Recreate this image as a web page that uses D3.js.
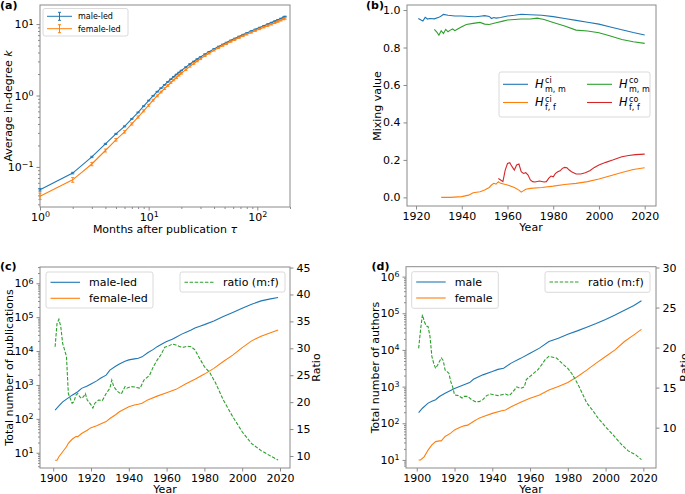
<!DOCTYPE html>
<html><head><meta charset="utf-8">
<script src="https://cdn.jsdelivr.net/npm/d3@7"></script>
<style>body{margin:0;background:#fff}</style>
</head><body><svg id="c" width="685" height="494"></svg>
<script>
// ---------- Panel (a) ----------
const tau = [1,2,3,4,5,6,7,8,9,10,11,12,13,14,15,16,17,18,19,20,22,24,26,28,30,33,36,40,44,48,52,57,62,68,74,80,88,96,105,115,125,135,145,155,165,175,180];
const kMale = [0.048,0.082,0.138,0.21,0.29,0.37,0.47,0.58,0.71,0.85,0.99,1.13,1.27,1.41,1.55,1.69,1.83,1.97,2.1,2.24,2.5,2.76,3.0,3.24,3.46,3.8,4.1,4.5,4.86,5.2,5.52,5.92,6.3,6.72,7.12,7.5,8.0,8.45,8.95,9.48,10.0,10.5,11.0,11.5,12.0,12.5,12.8];
const kMaleErr = [0.002,0.002,0.003,0.004,0.005,0.006,0.007,0.008,0.01,0.011,0.012,0.013,0.014,0.015,0.016,0.017,0.018,0.019,0.02,0.021,0.023,0.025,0.027,0.029,0.03,0.033,0.035,0.038,0.041,0.044,0.046,0.05,0.053,0.056,0.06,0.063,0.067,0.071,0.075,0.08,0.085,0.09,0.095,0.1,0.105,0.11,0.112];
const kFemale = [0.039,0.066,0.11,0.17,0.24,0.31,0.4,0.5,0.61,0.73,0.86,0.99,1.12,1.25,1.38,1.52,1.65,1.78,1.92,2.05,2.3,2.56,2.8,3.04,3.26,3.6,3.9,4.3,4.65,5.0,5.3,5.7,6.05,6.45,6.85,7.2,7.65,8.1,8.55,9.05,9.5,9.95,10.4,10.85,11.3,11.75,12.0];
const kFemaleErr = [0.004,0.005,0.006,0.008,0.01,0.012,0.014,0.017,0.02,0.023,0.026,0.029,0.032,0.035,0.038,0.041,0.044,0.047,0.05,0.053,0.058,0.063,0.068,0.073,0.078,0.085,0.092,0.1,0.108,0.116,0.123,0.132,0.14,0.15,0.16,0.17,0.18,0.19,0.2,0.21,0.22,0.23,0.24,0.25,0.26,0.27,0.28];
const aLegend = ["male-led","female-led"];

// ---------- Panel (b) ----------
const bYearsHciMM = [1921,1922,1923,1924,1925,1926,1928,1930,1931,1932,1934,1937,1940,1943,1946,1948,1950,1952,1953,1954,1955,1957,1960,1963,1966,1970,1975,1980,1985,1990,1995,2000,2005,2010,2015,2020];
const bHciMM      = [0.955,0.948,0.941,0.961,0.952,0.955,0.953,0.961,0.968,0.977,0.972,0.968,0.968,0.966,0.964,0.967,0.97,0.966,0.955,0.96,0.957,0.96,0.968,0.972,0.978,0.975,0.972,0.965,0.955,0.945,0.935,0.925,0.91,0.895,0.88,0.867];
const bYearsHcoMM = [1928,1929,1930,1931,1932,1933,1934,1935,1936,1937,1938,1940,1942,1945,1948,1950,1952,1955,1958,1960,1963,1966,1970,1973,1976,1980,1985,1990,1995,2000,2005,2010,2015,2020];
const bHcoMM      = [0.897,0.884,0.866,0.89,0.875,0.897,0.884,0.893,0.899,0.89,0.897,0.911,0.923,0.929,0.934,0.925,0.923,0.932,0.941,0.947,0.95,0.952,0.952,0.957,0.95,0.934,0.915,0.893,0.888,0.879,0.861,0.843,0.831,0.822];
const bYearsHciFF = [1931,1935,1940,1943,1945,1948,1950,1952,1953,1954,1955,1956,1957,1960,1963,1965,1966,1968,1970,1975,1980,1985,1990,1995,2000,2005,2010,2015,2020];
const bHciFF      = [0.0,0.0,0.004,0.012,0.025,0.03,0.039,0.053,0.066,0.075,0.071,0.084,0.075,0.066,0.053,0.039,0.028,0.043,0.048,0.053,0.06,0.069,0.075,0.084,0.098,0.116,0.133,0.149,0.158];
const bYearsHcoFF = [1956,1957,1958,1959,1960,1961,1962,1963,1964,1965,1966,1967,1968,1969,1970,1971,1972,1974,1976,1977,1978,1979,1980,1981,1982,1983,1984,1985,1986,1987,1988,1990,1992,1994,1996,1998,2000,2003,2006,2010,2013,2016,2020];
const bHcoFF      = [0.101,0.093,0.084,0.146,0.181,0.185,0.164,0.146,0.173,0.178,0.137,0.128,0.132,0.119,0.093,0.084,0.082,0.087,0.082,0.084,0.101,0.114,0.11,0.128,0.137,0.142,0.155,0.16,0.158,0.146,0.137,0.125,0.125,0.132,0.142,0.16,0.173,0.187,0.199,0.217,0.224,0.228,0.231];
const bTicksX = [1920,1940,1960,1980,2000,2020];
const bTicksY = [0.0,0.2,0.4,0.6,0.8,1.0];

// ---------- Panel (c) ----------
const cYearsMale = [1901,1903,1905,1908,1910,1913,1915,1918,1920,1923,1925,1928,1930,1933,1935,1938,1940,1943,1945,1947,1950,1953,1955,1958,1960,1963,1965,1968,1970,1973,1975,1978,1980,1985,1990,1995,2000,2005,2010,2015,2019];
const cMaleLed = [182,240,316,417,500,630,794,933,1070,1320,1580,1950,2750,3550,4170,5010,5500,5890,6170,6760,8910,11200,13500,16600,19100,22400,25700,31600,35500,41700,47900,55000,60300,77600,105000,138000,182000,240000,302000,347000,380000];
const cYearsFemale = [1901,1902,1903,1905,1907,1908,1910,1912,1913,1915,1918,1920,1923,1925,1928,1930,1933,1935,1938,1940,1943,1945,1947,1950,1955,1960,1965,1970,1975,1980,1985,1990,1995,2000,2005,2010,2015,2019];
const cFemaleLed = [6,6,7.6,10.7,15,19,25,30,30,37,46,55,63,71,83,102,132,162,200,229,257,269,288,363,468,589,741,1070,1480,2090,3090,4900,7590,12600,20000,27500,34700,41700];
const cYearsRatio = [1901,1902,1903,1904,1905,1906,1907,1908,1910,1911,1912,1913,1914,1915,1916,1917,1918,1920,1921,1922,1924,1926,1928,1930,1931,1932,1934,1936,1938,1939,1941,1943,1946,1948,1951,1953,1955,1957,1959,1961,1963,1965,1967,1969,1971,1973,1975,1978,1980,1983,1986,1990,1995,2000,2005,2010,2015,2019];
const cRatio = [30.3,34.6,35.4,34.0,30.9,29.7,28.5,21.6,19.8,20.1,21.3,21.6,21.0,20.7,21.0,21.6,20.4,19.5,18.9,19.8,20.4,20.3,21.6,22.6,24.1,22.9,22.0,21.5,22.9,22.6,22.9,22.8,22.6,24.1,25.0,26.6,27.8,28.8,30.2,30.4,30.8,30.6,30.3,30.2,30.4,30.3,29.7,27.8,26.6,25.4,23.5,20.4,17.3,14.5,12.3,11.0,10.0,9.25];
const cTicksRight = [10,15,20,25,30,35,40,45];

// ---------- Panel (d) ----------
const dYearsMale = [1901,1903,1906,1908,1910,1912,1915,1920,1925,1928,1930,1935,1940,1943,1946,1950,1955,1960,1965,1970,1975,1980,1985,1990,1995,2000,2005,2010,2015,2019];
const dMale = [195,257,355,398,437,537,661,891,1120,1290,1580,2090,2570,2950,3160,4370,5890,8130,11200,17000,20900,26900,33100,41700,52500,67600,89100,120000,162000,219000];
const dYearsFemale = [1901,1902,1904,1906,1908,1910,1912,1913,1915,1918,1920,1923,1925,1927,1930,1933,1935,1940,1945,1947,1950,1955,1960,1965,1970,1975,1980,1985,1990,1995,2000,2005,2010,2015,2019];
const dFemale = [10,10,12.3,18.6,25.7,31.6,33,33,43.6,53.7,66,77.6,85,89,112,138,151,186,219,229,282,372,479,589,813,1000,1290,1860,2820,4370,6610,10000,17000,25700,36300];
const dYearsRatio = [1901,1902,1903,1904,1905,1906,1907,1908,1909,1910,1911,1912,1913,1914,1915,1916,1917,1918,1919,1920,1922,1924,1925,1927,1929,1931,1933,1935,1937,1939,1941,1943,1945,1947,1949,1951,1953,1955,1957,1958,1960,1962,1964,1966,1968,1970,1972,1974,1976,1978,1980,1982,1984,1986,1988,1990,1993,1996,2000,2004,2008,2012,2016,2019];
const dRatio = [19.9,22.2,24.1,23.25,22.7,22.6,21.4,18.9,18.0,17.4,17.8,18.25,18.7,18.4,17.2,17.0,16.8,15.75,15.1,14.1,14.0,13.7,13.9,13.9,13.5,13.25,13.25,13.5,14.0,14.2,14.1,14.0,14.1,14.2,14.0,14.5,15.1,14.9,15.1,16.0,16.4,16.8,17.2,17.8,18.5,18.9,18.8,18.7,18.25,17.8,17.4,16.8,16.0,15.1,14.1,13.1,12.2,11.2,10.1,9.1,8.0,7.1,6.6,6.0];
const dTicksRight = [10,15,20,25,30];

const yearTicks = [1900,1920,1940,1960,1980,2000,2020];

// ---------- drawing ----------
const FF = '"DejaVu Sans", sans-serif';
const SP = "#8a8a8a";
const COL = {blue:"#1f77b4", orange:"#ff7f0e", green:"#2ca02c", red:"#d62728"};
const svg = d3.select("#c").attr("font-family", FF);

function frame(x0,y0,x1,y1){
  svg.append("rect").attr("x",x0).attr("y",y0).attr("width",x1-x0).attr("height",y1-y0)
    .attr("fill","none").attr("stroke",SP).attr("stroke-width",1);
}
function styleAxis(g){
  g.attr("font-size",11).attr("font-family",FF);
  g.select(".domain").remove();
  g.selectAll(".tick line").attr("stroke",SP);
  g.selectAll(".tick text").attr("fill","#000");
}
function supLabels(g){
  g.selectAll(".tick text").each(function(d){
    const e = Math.round(Math.log10(d));
    const t = d3.select(this); t.text("");
    t.append("tspan").text("10");
    t.append("tspan").attr("dy","-0.45em").attr("font-size","0.72em").text(String(e).replace("-","\u2212"));
  });
}
function minorVals(lo,hi){
  const out=[];
  for(let e=Math.floor(Math.log10(lo)); e<=Math.ceil(Math.log10(hi)); e++)
    for(let m=2;m<=9;m++){ const v=m*Math.pow(10,e); if(v>=lo && v<=hi) out.push(v); }
  return out;
}
function majorVals(lo,hi){
  const out=[];
  for(let e=Math.ceil(Math.log10(lo)); e<=Math.floor(Math.log10(hi)); e++) out.push(Math.pow(10,e));
  return out;
}
function bottomLog(x, y0){
  const [lo,hi]=x.domain();
  const g=svg.append("g").attr("transform",`translate(0,${y0})`)
    .call(d3.axisBottom(x).tickValues(majorVals(lo,hi)).tickSize(3.5).tickPadding(2.5).tickSizeOuter(0));
  styleAxis(g); supLabels(g);
  const m=svg.append("g").attr("transform",`translate(0,${y0})`)
    .call(d3.axisBottom(x).tickValues(minorVals(lo,hi)).tickSize(2).tickFormat("").tickSizeOuter(0));
  styleAxis(m);
}
function leftLog(y, x0){
  const [lo,hi]=y.domain();
  const g=svg.append("g").attr("transform",`translate(${x0},0)`)
    .call(d3.axisLeft(y).tickValues(majorVals(lo,hi)).tickSize(3.5).tickPadding(3).tickSizeOuter(0));
  styleAxis(g); supLabels(g);
  const m=svg.append("g").attr("transform",`translate(${x0},0)`)
    .call(d3.axisLeft(y).tickValues(minorVals(lo,hi)).tickSize(2).tickFormat("").tickSizeOuter(0));
  styleAxis(m);
}
function label(text, x, y, rot, parts){
  const t=svg.append("text").attr("font-size",11).attr("text-anchor","middle")
    .attr("transform",`translate(${x},${y})${rot?" rotate(-90)":""}`);
  if(parts){ parts.forEach(p=>{ const s=t.append("tspan").text(p[0]); if(p[1]) s.attr("font-style","italic"); }); }
  else t.text(text);
  return t;
}
function panelTag(s,x,y){
  svg.append("text").attr("x",x).attr("y",y).attr("font-size",11).attr("font-weight","bold").text(s);
}
function drawLine(x,y,xs,ys,color,dash){
  const data = xs.map((v,i)=>[v,ys[i]]);
  svg.append("path").datum(data).attr("fill","none").attr("stroke",color).attr("stroke-width",1.1)
    .attr("stroke-dasharray",dash||null)
    .attr("d",d3.line().x(d=>x(d[0])).y(d=>y(d[1])));
}
function legendBox(x0,y0,x1,y1){
  svg.append("rect").attr("x",x0).attr("y",y0).attr("width",x1-x0).attr("height",y1-y0).attr("rx",2)
    .attr("fill","#fff").attr("fill-opacity",0.8).attr("stroke","#d0d0d0").attr("stroke-width",0.8);
}

// ===== (a) =====
{
  const x=d3.scaleLog().domain([1,200]).range([40,290]);
  const y=d3.scaleLog().domain([0.0275,18.5]).range([207,5]);
  frame(40,5,290,207);
  bottomLog(x,207); leftLog(y,40);
  const series=[[kMale,kMaleErr,COL.blue],[kFemale,kFemaleErr,COL.orange]];
  series.forEach(([v,e,c])=>{
    drawLine(x,y,tau,v,c);
    const g=svg.append("g").attr("stroke",c).attr("stroke-width",0.9);
    tau.forEach((t,i)=>{
      const xx=x(t), ya=y(v[i]-e[i]), yb=y(v[i]+e[i]);
      g.append("line").attr("x1",xx).attr("x2",xx).attr("y1",ya).attr("y2",yb);
      g.append("line").attr("x1",xx-1.6).attr("x2",xx+1.6).attr("y1",ya).attr("y2",ya);
      g.append("line").attr("x1",xx-1.6).attr("x2",xx+1.6).attr("y1",yb).attr("y2",yb);
    });
  });
  legendBox(43,8.5,128,36);
  [[aLegend[0],COL.blue,16.3],[aLegend[1],COL.orange,28.7]].forEach(([t,c,yy])=>{
    const g=svg.append("g").attr("stroke",c).attr("stroke-width",1);
    g.append("line").attr("x1",47).attr("x2",72).attr("y1",yy).attr("y2",yy);
    g.append("line").attr("x1",59.5).attr("x2",59.5).attr("y1",yy-4).attr("y2",yy+4);
    g.append("line").attr("x1",58).attr("x2",61).attr("y1",yy-4).attr("y2",yy-4);
    g.append("line").attr("x1",58).attr("x2",61).attr("y1",yy+4).attr("y2",yy+4);
    svg.append("text").attr("x",78).attr("y",yy+2.8).attr("font-size",8).text(t);
  });
  label(null,11.5,106,true,[["Average in-degree "],["k",true]]);
  label(null,165,233,false,[["Months after publication "],["\u03c4",true]]);
  panelTag("(a)",0,8.5);
}

// ===== (b) =====
{
  const x=d3.scaleLinear().domain([1916.05,2024.95]).range([407,656]);
  const y=d3.scaleLinear().domain([-0.046,1.027]).range([206,5]);
  frame(407,5,656,206);
  const gx=svg.append("g").attr("transform","translate(0,206)")
    .call(d3.axisBottom(x).tickValues(bTicksX).tickFormat(d3.format("d")).tickSize(3.5).tickPadding(2.5).tickSizeOuter(0));
  styleAxis(gx);
  const gy=svg.append("g").attr("transform","translate(407,0)")
    .call(d3.axisLeft(y).tickValues(bTicksY).tickFormat(d3.format(".1f")).tickSize(3.5).tickPadding(3).tickSizeOuter(0));
  styleAxis(gy);
  drawLine(x,y,bYearsHciMM,bHciMM,COL.blue);
  drawLine(x,y,bYearsHcoMM,bHcoMM,COL.green);
  drawLine(x,y,bYearsHciFF,bHciFF,COL.orange);
  drawLine(x,y,bYearsHcoFF,bHcoFF,COL.red);
  legendBox(499,72,650,117);
  const ent=[[503,84.3,COL.blue,"ci","m, m"],[587,84.3,COL.green,"co","m, m"],
             [503,102.5,COL.orange,"ci","f, f"],[587,102.5,COL.red,"co","f, f"]];
  ent.forEach(([lx,ly,c,sup,sub])=>{
    svg.append("line").attr("x1",lx).attr("x2",lx+25).attr("y1",ly).attr("y2",ly).attr("stroke",c).attr("stroke-width",1.1);
    const tx=lx+32;
    const t=svg.append("text").attr("x",tx).attr("y",ly+3.5).attr("font-size",11.5);
    t.append("tspan").attr("font-style","italic").text("H");
    t.append("tspan").attr("x",tx+10).attr("dy",-4.5).attr("font-size",8).text(sup);
    t.append("tspan").attr("x",tx+10).attr("dy",8.5).attr("font-size",8).text(sub);
  });
  label("Mixing value",380.5,106,true);
  label("Year",531,231,false);
  panelTag("(b)",366,8.5);
}

// ===== (c) & (d) =====
function bottomPanel(o){
  const x=d3.scaleLinear().domain(o.xd).range([o.x0,o.x1]);
  const y=d3.scaleLog().domain(o.yd).range([o.y1,o.y0]);
  const yr=d3.scaleLinear().domain(o.rd).range([o.y1,o.y0]);
  frame(o.x0,o.y0,o.x1,o.y1);
  const gx=svg.append("g").attr("transform",`translate(0,${o.y1})`)
    .call(d3.axisBottom(x).tickValues(yearTicks).tickFormat(d3.format("d")).tickSize(3.5).tickPadding(2.5).tickSizeOuter(0));
  styleAxis(gx);
  leftLog(y,o.x0);
  const gr=svg.append("g").attr("transform",`translate(${o.x1},0)`)
    .call(d3.axisRight(yr).tickValues(o.rt).tickFormat(d3.format("d")).tickSize(3.5).tickPadding(3).tickSizeOuter(0));
  styleAxis(gr);
  drawLine(x,y,o.mx,o.m,COL.blue);
  drawLine(x,y,o.fx,o.f,COL.orange);
  drawLine(x,yr,o.rx,o.r,COL.green,"3.5,1.6");
  // legends
  legendBox(o.l1[0],o.l1[1],o.l1[2],o.l1[3]);
  [[o.names[0],COL.blue,o.l1[1]+10.3],[o.names[1],COL.orange,o.l1[1]+26.3]].forEach(([t,c,yy])=>{
    svg.append("line").attr("x1",o.l1[0]+4.5).attr("x2",o.l1[0]+34).attr("y1",yy).attr("y2",yy).attr("stroke",c).attr("stroke-width",1.1);
    svg.append("text").attr("x",o.l1[0]+43).attr("y",yy+4).attr("font-size",11).text(t);
  });
  legendBox(o.l2[0],o.l2[1],o.l2[2],o.l2[3]);
  const ly=o.l2[1]+10.3;
  svg.append("line").attr("x1",o.l2[0]+4.5).attr("x2",o.l2[0]+34).attr("y1",ly).attr("y2",ly)
    .attr("stroke",COL.green).attr("stroke-width",1.1).attr("stroke-dasharray","3.5,1.6");
  svg.append("text").attr("x",o.l2[0]+43).attr("y",ly+4).attr("font-size",11).text("ratio (m:f)");
  label(o.ylab,o.ylx,367.5,true);
  label("Ratio",o.rlx,367.5,true);
  label("Year",(o.x0+o.x1)/2,493,false);
  panelTag(o.tag,o.tx,270);
}
bottomPanel({x0:40,x1:290,y0:267,y1:468,xd:[1893,2025.3],yd:[Math.pow(10,0.55),Math.pow(10,6.48)],rd:[7.77,45.1],rt:cTicksRight,
  mx:cYearsMale,m:cMaleLed,fx:cYearsFemale,f:cFemaleLed,rx:cYearsRatio,r:cRatio,
  l1:[46,272,153,308],l2:[180,272,285,292],names:["male-led","female-led"],
  ylab:"Total number of publications",ylx:12.5,rlx:319.5,tag:"(c)",tx:0});
bottomPanel({x0:406,x1:656,y0:266.7,y1:468,xd:[1894.3,2026.7],yd:[Math.pow(10,0.78),Math.pow(10,6.27)],rd:[4.96,30.1],rt:dTicksRight,
  mx:dYearsMale,m:dMale,fx:dYearsFemale,f:dFemale,rx:dYearsRatio,r:dRatio,
  l1:[411.7,271.7,498.3,308.3],l2:[545,271.7,650,292.3],names:["male","female"],
  ylab:"Total number of authors",ylx:379,rlx:687.5,tag:"(d)",tx:371.5});
</script></body></html>
